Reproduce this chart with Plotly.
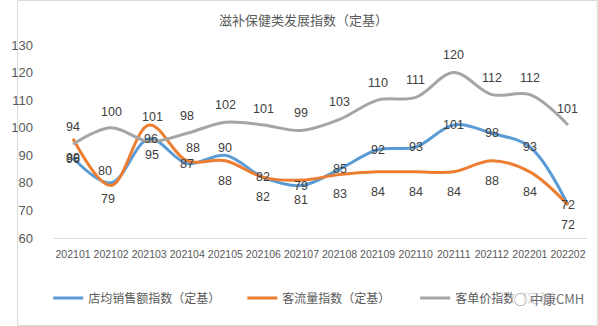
import plotly.graph_objects as go

# Monthly index values (fixed base)
months = ["202101", "202102", "202103", "202104", "202105", "202106", "202107",
          "202108", "202109", "202110", "202111", "202112", "202201", "202202"]
sales_index = [89, 80, 96, 87, 90, 82, 79, 85, 92, 93, 101, 98, 93, 72]
traffic_index = [96, 79, 101, 88, 88, 82, 81, 83, 84, 84, 84, 88, 84, 72]
ticket_index = [94, 100, 95, 98, 102, 101, 99, 103, 110, 111, 120, 112, 112, 101]

series_names = ["店均销售额指数（定基）", "客流量指数（定基）", "客单价指数（定基）"]
title_text = "滋补保健类发展指数（定基）"
y_ticks = [60, 70, 80, 90, 100, 110, 120, 130]

# Label placement (pixel offsets from each point)
sales_dy = [0, 12, 0, 0, 7, 0, 0, 0, 0, 0, 0, 0, 0, 0]
sales_dx = [0, -6, 2, 0, 0, 0, 0, 0, 0, 0, 0, 0, 0, 0]
traffic_dy = [-20, -13, 8, 13, -20, -20, -20, -19, -20, -20, -20, -20, -20, -20]
traffic_dx = [0, -3, 3, 6, 0, 0, 0, 0, 0, 0, 0, 0, 0, 0]
ticket_dy = [17, 16, -13, 17, 17, 16, 17, 17, 17, 17, 18, 17, 17, 16]
ticket_dx = [0, 0, 3, 0, 0, 0, 0, 0, 0, 0, 0, 0, 0, 0]

colors = ["#5B9BD5", "#ED7D31", "#A5A5A5"]
W, H = 598, 326
ML, MR, MT, MB = 38, 11, 45, 88
PW, PH = W - ML - MR, H - MT - MB

num_font = "Liberation Sans, Arial, sans-serif"
cjk_font = "Noto Sans CJK SC, sans-serif"

fig = go.Figure()
all_series = [sales_index, traffic_index, ticket_index]
legends = ["legend", "legend2", "legend3"]
for vals, name, col, lg in zip(all_series, series_names, colors, legends):
    fig.add_trace(go.Scatter(
        x=months, y=vals, name=name, mode="lines",
        line=dict(color=col, width=3, shape="spline", smoothing=1.0),
        legend=lg, hoverinfo="skip",
    ))

# Value labels (category axis positions are given by index)
annotations = []
for vals, dys, dxs in [(ticket_index, ticket_dy, ticket_dx),
                       (traffic_index, traffic_dy, traffic_dx),
                       (sales_index, sales_dy, sales_dx)]:
    for i, (v, dy, dx) in enumerate(zip(vals, dys, dxs)):
        annotations.append(dict(
            x=i, y=v, text=str(v), showarrow=False, xref="x", yref="y",
            yshift=dy, xshift=dx,
            font=dict(family=num_font, size=12.5, color="#404040"),
        ))

# Title
annotations.append(dict(
    x=(W / 2 - 4 - ML) / PW, y=(H - 20 - MB) / PH, xref="paper", yref="paper",
    text=title_text, showarrow=False, xanchor="center", yanchor="middle",
    font=dict(family=cjk_font, size=13, color="#595959"),
))

# Watermark over the last legend entry
annotations.append(dict(
    x=(548 - ML) / PW, y=(H - 298 - MB) / PH, xref="paper", yref="paper",
    text="◯ 中康CMH", showarrow=False, xanchor="center", yanchor="middle",
    bgcolor="rgba(255,255,255,0.75)",
    font=dict(family=cjk_font, size=13, color="#6f6f6f"),
))

def px_x(px):
    return (px - ML) / PW

def px_y(py):
    return (H - py - MB) / PH

legend_style = dict(
    orientation="h", xanchor="left", yanchor="middle", y=px_y(298),
    font=dict(family=cjk_font, size=12, color="#595959"),
    bgcolor="rgba(0,0,0,0)", itemwidth=30, tracegroupgap=0,
)

fig.update_layout(
    width=W, height=H,
    margin=dict(l=ML, r=MR, t=MT, b=MB),
    paper_bgcolor="white", plot_bgcolor="white",
    showlegend=True,
    legend=dict(x=px_x(32), **legend_style),
    legend2=dict(x=px_x(232), **legend_style),
    legend3=dict(x=px_x(410), **legend_style),
    annotations=annotations,
    xaxis=dict(
        type="category", range=[-0.5, len(months) - 0.5],
        showgrid=False, showline=True, linecolor="#d9d9d9", linewidth=1,
        ticks="", ticklabelstandoff=6,
        tickfont=dict(family=num_font, size=10.5, color="#595959"),
        fixedrange=True,
    ),
    yaxis=dict(
        range=[60, 130], tickvals=y_ticks, showgrid=False, zeroline=False,
        showline=False, ticks="", ticklabelstandoff=20,
        tickfont=dict(family=num_font, size=13, color="#595959"),
        fixedrange=True,
    ),
    shapes=[dict(
        type="rect", xref="paper", yref="paper",
        x0=px_x(0.5), x1=px_x(W - 0.5), y0=px_y(H - 0.5), y1=px_y(0.5),
        line=dict(color="#d9d9d9", width=1), layer="below",
    )],
)

fig.write_html("out.html", config={"displayModeBar": False})
